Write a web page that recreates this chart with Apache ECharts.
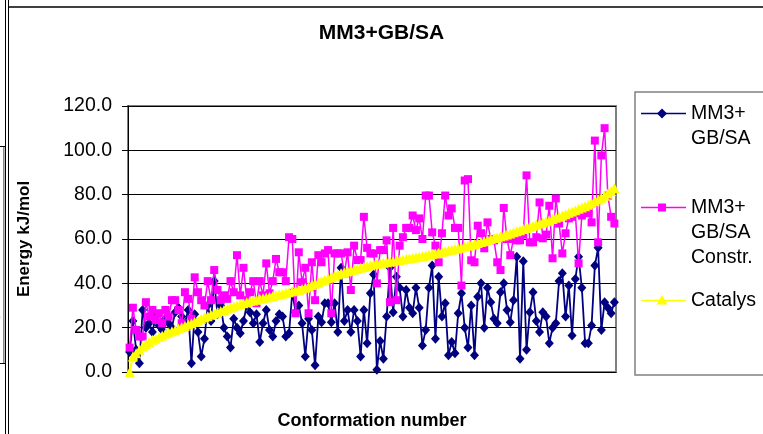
<!DOCTYPE html>
<html><head><meta charset="utf-8">
<script src="https://cdn.jsdelivr.net/npm/echarts@6/dist/echarts.min.js"></script>
<style>html,body{margin:0;padding:0;background:#fff;}#c{width:763px;height:434px;}</style>
</head><body><div id="c"></div><script>
const titleText = 'MM3+GB/SA';
const yAxisName = 'Energy kJ/mol';
const xAxisName = 'Conformation number';
const seriesNames = ['MM3+\nGB/SA', 'MM3+\nGB/SA\nConstr.', 'Catalys'];
const yMin = 0, yMax = 120, yStep = 20;

const mm3 = [9,23,10,4,28,20,22,18,25,21,
19,24,22,20,27,29,25,22,28,4,
26,18,7,15,30,23,41,26,30,20,
16,11,24,20,17.5,23,30,27,22,26,
13.5,22,28,19,16,23,26,25,16,17.5,
36,27,30,22,7,24,19,3,25,22.5,
31,31,22.5,31,18,47,23,28,18,28,
23,7,28,13,35.5,44,1,14,6,25,
47,27,43,38,25,37,29,26.5,38,29,
12,19,38,48,15,43,25,31,7.6,13.5,
8.5,26.5,35.5,20,11,30,7.6,34,40,20,
38,31.5,24,22,36,40,28,22.5,32.4,52,
6,50,10,27,36,23,18,27,25,13,
20,22,41,44.5,25,39,16.5,42,52,38,
13,13,21,48,56,19,31.5,29,26.5,31.5];

const mm3Constr = [11,29,19,16,16,31.5,25,28,23.5,26.5,
22,28,25,32.4,32.4,28,22,36,33,24,
42.7,36,32.4,30,41,32.4,46,37,32.4,34.6,
33,41,36,52.7,34.6,47,32.4,36,41,31,
41,34.6,49,35.5,41,51,45,45,41,60.8,
60,26.5,54,40.5,47,26.5,49.5,32.4,52.7,49.5,
53.5,55,26.5,53.5,53.5,53.5,44.5,54,37,57,
50.5,50.5,70,56,53.5,53.5,40,55,55,59.4,
31.5,65,32.4,57,60.8,65,65,70.6,64,69.3,
60,79.6,79.6,63,57,49.5,62.6,79.6,70.6,73.8,
65,65,39,86.4,87,50.4,49.5,66,62.6,55.8,
67.5,60,59.4,49.5,46,74,60,52.7,60,59.4,
59.4,62,88.7,58.5,58.5,60.8,76.5,60.3,62,75,
51.3,78.3,67,53.5,62.6,69.3,70,71.6,49,70.6,
72,71.6,67.5,104.4,58.5,97.7,110,79.6,70,67];

const catalyst = [0,7,8.5,10,11.5,12.5,13.5,14.5,15,15.8,
16.5,17.2,17.8,18.4,19,19.6,20.2,20.8,21.4,22,
22.6,23.2,24,24.6,25.2,25.8,26.4,27,27.5,28,
28.6,29.1,29.6,30.1,30.6,31,31.5,32,32.3,32.6,
33,33.3,33.6,34,34.3,34.6,35,35.3,35.7,36,
36.4,36.8,37,37.4,38,38.6,39.2,39.8,40.4,41,
41.6,42.2,42.8,43.4,44,44.6,45,45.4,45.8,46.2,
46.6,47,47.4,47.8,48.2,48.6,48.8,49,49.3,49.5,
49.8,50,50.3,50.5,50.8,51,51.3,51.5,51.8,52,
52.3,52.6,52.9,53.2,53.5,53.8,54.2,54.5,54.8,55.2,
55.5,55.8,56.2,56.6,57,57.4,57.8,58.2,58.6,59,
59.5,60,60.4,60.8,61.2,61.6,62,62.5,63,63.5,
64,64.5,65,65.5,66,66.5,67,67.5,68,68.5,
69,69.6,70,70.6,71.2,71.8,72.4,73,73.6,74.2,
74.8,75.5,76.2,77,77.8,78.6,79.5,80.5,81.6,83];

const categories = mm3.map((_, i) => String(i + 1));
const colors = ['#000080', '#FF00FF', '#FFFF00'];
const FONT = '"Liberation Sans", Arial, sans-serif';

const chart = echarts.init(document.getElementById('c'), null, {renderer: 'canvas'});

// manual Excel-style legend
const legendTops = [113.5, 207.5, 300.5];
const legendGraphics = [];
seriesNames.forEach((name, k) => {
  const cy = legendTops[k];
  legendGraphics.push({type:'line', shape:{x1:641, y1:cy, x2:686, y2:cy}, style:{stroke:colors[k], lineWidth:1.5}, z:10});
  let sym;
  if (k === 0) sym = {type:'polygon', shape:{points:[[662,cy-5],[667,cy],[662,cy+5],[657,cy]]}, style:{fill:colors[k]}, z:11};
  else if (k === 1) sym = {type:'rect', shape:{x:658, y:cy-4, width:8, height:8}, style:{fill:colors[k]}, z:11};
  else sym = {type:'polygon', shape:{points:[[662,cy-5.5],[667.5,cy+4],[656.5,cy+4]]}, style:{fill:colors[k]}, z:11};
  legendGraphics.push(sym);
  legendGraphics.push({type:'text', x:691, y:cy - 12.5, style:{text:name, font:'19.5px ' + FONT, fill:'#000', lineHeight:25, textVerticalAlign:'top'}, z:10});
});

const option = {
  backgroundColor: '#ffffff',
  animation: false,
  title: {
    text: titleText, left: 'center', top: 18,
    textStyle: {fontFamily: FONT, fontWeight: 'bold', fontSize: 21, color: '#000'}
  },
  grid: {left: 128, top: 106, right: 147, bottom: 62, show: true, borderColor: '#808080', borderWidth: 2,
         backgroundColor: '#fff', containLabel: false, outerBoundsMode: 'none'},
  xAxis: {
    type: 'category', data: categories, boundaryGap: true,
    name: xAxisName, nameLocation: 'middle', nameGap: 40,
    nameTextStyle: {fontFamily: FONT, fontWeight: 'bold', fontSize: 18, color: '#000'},
    axisLine: {lineStyle: {color: '#000', width: 1}},
    axisTick: {show: false}, axisLabel: {show: false}, splitLine: {show: false}
  },
  yAxis: {
    type: 'value', min: yMin, max: yMax, interval: yStep,
    name: yAxisName, nameLocation: 'middle', nameGap: 95, nameRotate: 90,
    nameTextStyle: {fontFamily: FONT, fontWeight: 'bold', fontSize: 17, color: '#000'},
    axisLine: {show: true, lineStyle: {color: '#000', width: 1}},
    axisTick: {show: true, inside: false, length: 6, lineStyle: {color: '#000'}},
    axisLabel: {margin: 16, fontFamily: FONT, fontSize: 19.5, color: '#000', formatter: v => v.toFixed(1)},
    splitLine: {show: true, lineStyle: {color: '#000', width: 1}}
  },
  series: [
    {name: seriesNames[0], type: 'line', data: mm3, symbol: 'diamond', symbolSize: [9, 10], showAllSymbol: true,
     itemStyle: {color: colors[0]}, lineStyle: {color: colors[0], width: 1.8}, z: 2},
    {name: seriesNames[1], type: 'line', data: mm3Constr, symbol: 'rect', symbolSize: 8, showAllSymbol: true,
     itemStyle: {color: colors[1]}, lineStyle: {color: colors[1], width: 1.5}, z: 3},
    {name: seriesNames[2], type: 'line', data: catalyst, symbol: 'triangle', symbolSize: 10, showAllSymbol: true,
     itemStyle: {color: colors[2]}, lineStyle: {color: colors[2], width: 2}, z: 4}
  ],
  graphic: [
    {type:'line', shape:{x1:8, y1:7, x2:763, y2:7}, style:{stroke:'#404040', lineWidth:2}, z:20},
    {type:'line', shape:{x1:5.5, y1:0, x2:5.5, y2:434}, style:{stroke:'#000', lineWidth:1}, z:20},
    {type:'line', shape:{x1:8.5, y1:0, x2:8.5, y2:434}, style:{stroke:'#000', lineWidth:1}, z:20},
    {type:'line', shape:{x1:0, y1:146.5, x2:5, y2:146.5}, style:{stroke:'#000', lineWidth:1}, z:20},
    {type:'line', shape:{x1:0, y1:363.5, x2:5, y2:363.5}, style:{stroke:'#000', lineWidth:1}, z:20},
    {type:'line', shape:{x1:3.8, y1:147, x2:3.8, y2:363}, style:{stroke:'#808080', lineWidth:1.5}, z:20},
    {type:'text', x:-5, y:313, style:{text:'t', font:'19px ' + FONT, fill:'#000', textVerticalAlign:'middle'}, z:19},
    {type:'rect', shape:{x:635, y:92, width:140, height:283}, style:{fill:'#fff', stroke:'#808080', lineWidth:1.5}, z:9}
  ].concat(legendGraphics)
};
chart.setOption(option);
</script></body></html>
